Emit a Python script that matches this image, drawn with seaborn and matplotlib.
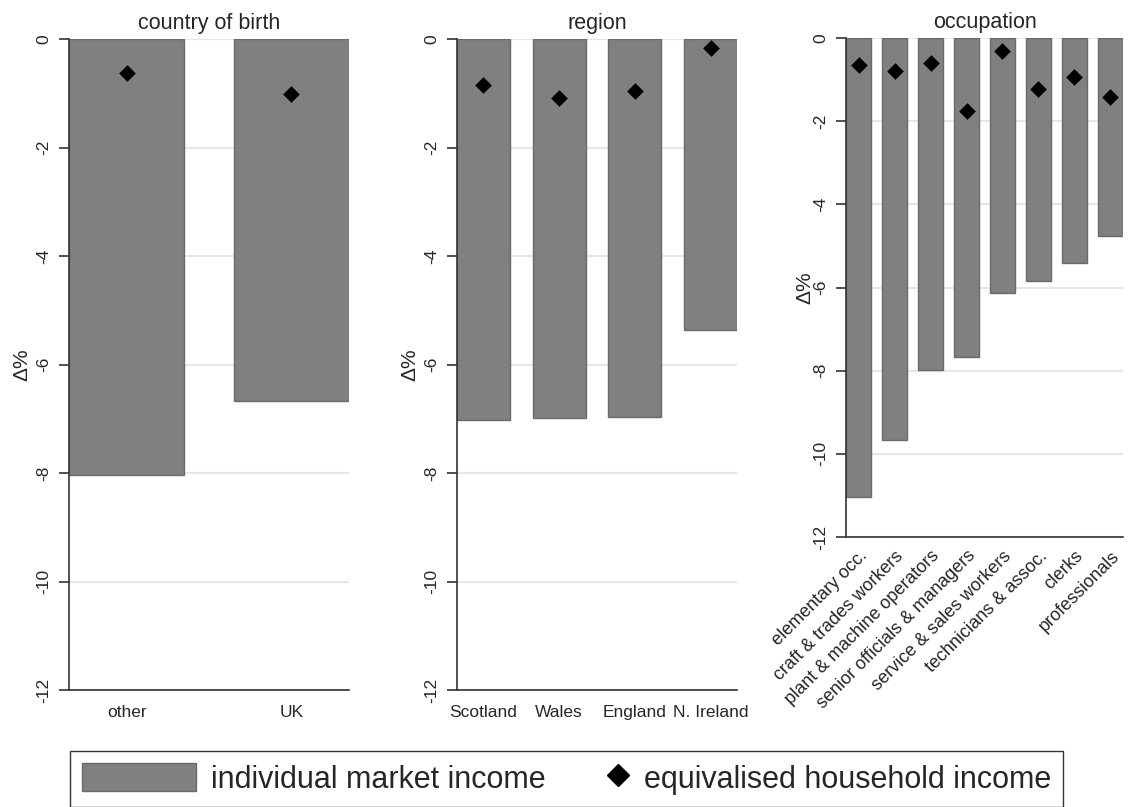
"""
    bar + diamond panels, change in income by group
"""

import matplotlib
matplotlib.use('Agg')
import matplotlib.pyplot as plt
import numpy as np
import pandas as pd
import seaborn as sns
from matplotlib.patches import Patch
from matplotlib.lines import Line2D
from matplotlib.legend_handler import HandlerLine2D

sns.set_style('white')
plt.rcParams['font.family'] = ['Liberation Sans', 'DejaVu Sans']

# country of birth
birth_cats = ['other', 'UK']
birth_market = [-8.03, -6.67]
birth_hh = [-0.63, -1.02]

# region
region_cats = ['Scotland', 'Wales', 'England', 'N. Ireland']
region_market = [-7.03, -6.99, -6.97, -5.37]
region_hh = [-0.84, -1.08, -0.96, -0.17]

# occupation
occ_cats = ['elementary occ.', 'craft & trades workers', 'plant & machine operators',
            'senior officials & managers', 'service & sales workers',
            'technicians & assoc.', 'clerks', 'professionals']
occ_market = [-11.04, -9.66, -7.98, -7.68, -6.13, -5.84, -5.40, -4.77]
occ_hh = [-0.65, -0.79, -0.59, -1.75, -0.31, -1.22, -0.93, -1.43]

yticks = [0, -2, -4, -6, -8, -10, -12]
ytick_labels = ['0', '-2', '-4', '-6', '-8', '-10', '-12']

BAR = '#808080'
EDGE = '#6a6a6a'
GRID = '#e6e6e6'

fig = plt.figure(figsize=(11.28, 8.07), dpi=100)
W, H = 1128, 807


def px_axes(x0, x1, y0, y1):
    return fig.add_axes([x0 / W, 1 - y1 / H, (x1 - x0) / W, (y1 - y0) / H])


def panel(ax, cats, market, hh, title, labx, rot=0):
    df = pd.DataFrame({'cat': cats, 'market': market, 'hh': hh})
    for t in yticks:
        ax.axhline(t, color=GRID, lw=1.5, zorder=0)
    sns.barplot(data=df, x='cat', y='market', order=cats, color=BAR, saturation=1,
                width=0.7, edgecolor=EDGE, linewidth=1, ax=ax, zorder=2)
    sns.stripplot(data=df, x='cat', y='hh', order=cats, jitter=False, marker='D',
                  size=8.5, color='black', linewidth=0, ax=ax, zorder=3)
    ax.set_xlim(-0.35, len(cats) - 0.65)
    ax.set_ylim(-12, 0)
    ax.set_yticks(yticks)
    ax.set_yticklabels(ytick_labels, rotation=90, va='center', fontsize=12.5)
    ax.tick_params(axis='y', left=True, length=7, width=1.2, color='#333333', pad=6)
    ax.tick_params(axis='x', bottom=False, pad=7)
    if rot:
        ax.set_xticks(range(len(cats)))
        ax.set_xticklabels(cats, rotation=rot, ha='right', rotation_mode='anchor', fontsize=13)
        ax.tick_params(axis='x', pad=4)
    else:
        for lab in ax.get_xticklabels():
            lab.set_fontsize(12.5)
    ax.set_xlabel('')
    ax.set_ylabel('Δ%', fontsize=15)
    ax.yaxis.set_label_coords(labx, 0.5)
    ax.set_title(title, fontsize=15.5, pad=7)
    for s in ['top', 'right']:
        ax.spines[s].set_visible(False)
    for s in ['left', 'bottom']:
        ax.spines[s].set_color('#333333')
        ax.spines[s].set_linewidth(1.2)
        ax.spines[s].set_zorder(4)


ax1 = px_axes(69, 349, 39, 690)
panel(ax1, birth_cats, birth_market, birth_hh, 'country of birth', -0.133)

ax2 = px_axes(457, 737, 39, 690)
panel(ax2, region_cats, region_market, region_hh, 'region', -0.136)

ax3 = px_axes(846, 1123, 38, 537)
panel(ax3, occ_cats, occ_market, occ_hh, 'occupation', -0.113, rot=45)


class RightMarker(HandlerLine2D):
    # single marker is drawn at the middle of xdata, so centre xdata near the right end
    def get_xdata(self, legend, xdescent, ydescent, width, height, fontsize):
        xdata, xm = super().get_xdata(legend, xdescent, ydescent, width, height, fontsize)
        pos = -xdescent + width - 0.35 * fontsize
        return [pos - 1, pos + 1], [pos]


handles = [Patch(facecolor=BAR, edgecolor=EDGE, linewidth=1),
           Line2D([], [], marker='D', color='black', ls='', markersize=11)]
labels = ['individual market income', 'equivalised household income']
fig.legend(handles, labels, loc='upper left', ncol=2, mode='expand',
           bbox_to_anchor=(70 / W, 1 - 752 / H, (1063 - 70) / W, 0.001),
           borderaxespad=0, fontsize=22, frameon=True, fancybox=False,
           edgecolor='#333333', framealpha=1, handlelength=3.73, handleheight=1.0,
           handletextpad=0.5, borderpad=0.4, columnspacing=1.0,
           handler_map={handles[1]: RightMarker(numpoints=1)})

plt.savefig('out.png', dpi=100)
